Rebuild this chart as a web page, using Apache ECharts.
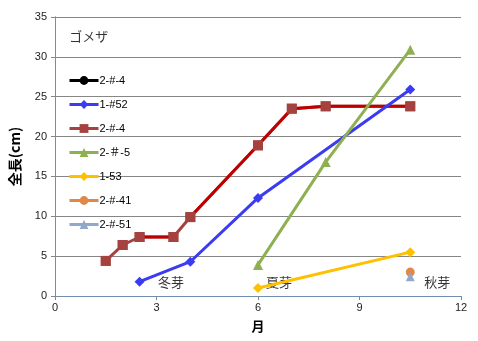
<!DOCTYPE html>
<html><head><meta charset="utf-8">
<script src="https://cdn.jsdelivr.net/npm/echarts@6/dist/echarts.min.js"></script>
<style>html,body{margin:0;padding:0;background:#fff}#c{width:478px;height:341px}</style>
</head><body><div id="c"></div>
<script>
// ---- data ----
const xTicks = [0, 3, 6, 9, 12];
const yTicks = [0, 5, 10, 15, 20, 25, 30, 35];
const names = ['2-#-4', '1-#52', '2-#-4', '2-＃-5', '1-53', '2-#-41', '2-#-51'];
const m_1_52 = [2.5, 4, 6, 10.5];
const v_1_52 = [1.8, 4.3, 12.3, 25.9];
const m_2_4 = [1.5, 2, 2.5, 3.5, 4, 6, 7, 8, 10.5];
const v_2_4 = [4.4, 6.4, 7.4, 7.4, 9.9, 18.9, 23.5, 23.8, 23.8];
// which segments (start index) of 2-#-4 are drawn red (rest brown)
const redSeg = [2, 4, 5, 6, 7];
const m_2_5 = [6, 8, 10.5];
const v_2_5 = [3.9, 16.8, 30.9];
const m_1_53 = [6, 10.5];
const v_1_53 = [1.0, 5.5];
const m_2_41 = [10.5];
const v_2_41 = [3.0];
const m_2_51 = [10.5];
const v_2_51 = [2.4];
const notes = [{t: '冬芽', x: 3.43, y: 1.75}, {t: '夏芽', x: 6.62, y: 1.75}, {t: '秋芽', x: 11.3, y: 1.75}, {t: 'ゴメザ', x: 1.0, y: 32.6}];

const zip = (a, b) => a.map((x, i) => [x, b[i]]);
function segData(sel) {
  const out = [];
  for (let i = 0; i < m_2_4.length - 1; i++) {
    if (!sel(i)) continue;
    const last = out.length ? out[out.length - 1] : null;
    if (!last || last[0] !== m_2_4[i]) {
      if (last) out.push([(last[0] + m_2_4[i]) / 2, '-']);
      out.push([m_2_4[i], v_2_4[i]]);
    }
    out.push([m_2_4[i + 1], v_2_4[i + 1]]);
  }
  return out;
}
const keys = ['k0', 'k1', 'k2', 'k3', 'k4', 'k5', 'k6'];
const nameMap = {}; keys.forEach((k, i) => nameMap[k] = names[i]);

const chart = echarts.init(document.getElementById('c'));
const font = 'Arial, "Liberation Sans", "Noto Sans CJK JP", sans-serif';
const cjk = '"Noto Sans CJK JP", sans-serif';
chart.setOption({
  animation: false,
  textStyle: {fontFamily: font},
  grid: {left: 55, right: 17, top: 17, bottom: 45},
  legend: {
    orient: 'vertical', left: 68, top: 75, padding: 0, itemWidth: 29, itemHeight: 11, itemGap: 13,
    lineStyle: {width: 3},
    textStyle: {fontSize: 11, color: '#000', padding: [0, 0, 0, -4], fontFamily: font},
    formatter: n => nameMap[n],
    data: [
      {name: 'k0', itemStyle: {color: '#000'}, lineStyle: {color: '#000', width: 3}},
      'k1', 'k2', 'k3', 'k4', 'k5', 'k6'
    ]
  },
  xAxis: [{
    type: 'value', min: 0, max: 12, interval: 3,
    name: '月', nameLocation: 'middle', nameGap: 24,
    nameTextStyle: {fontWeight: 'bold', fontSize: 13, color: '#000', fontFamily: cjk},
    axisLine: {show: true, lineStyle: {color: '#868686'}},
    axisTick: {show: true, inside: false, length: 4, lineStyle: {color: '#868686'}},
    axisLabel: {fontSize: 11, color: '#222', margin: 6},
    splitLine: {show: false}
  }, {
    type: 'value', min: 0, max: 12, position: 'top',
    axisLine: {show: true, lineStyle: {color: '#6f8fb0'}},
    axisTick: {show: false}, axisLabel: {show: false}, splitLine: {show: false}
  }],
  yAxis: [{
    type: 'value', min: 0, max: 35, interval: 5,
    name: '全長(cm)', nameLocation: 'middle', nameGap: 33, nameRotate: 90,
    nameTextStyle: {fontWeight: 'bold', fontSize: 14, color: '#000', fontFamily: cjk},
    axisLine: {show: true, lineStyle: {color: '#868686'}},
    axisTick: {show: true, inside: false, length: 4, lineStyle: {color: '#868686'}},
    axisLabel: {fontSize: 11, color: '#222', margin: 8},
    splitLine: {show: true, lineStyle: {color: '#868686', width: 1}}
  }, {
    type: 'value', min: 0, max: 35, position: 'right',
    axisLine: {show: true, lineStyle: {color: '#6f8fb0'}},
    axisTick: {show: false}, axisLabel: {show: false}, splitLine: {show: false}
  }],
  series: [
    {name: 'k2', type: 'line', data: zip(m_2_4, v_2_4), symbol: 'rect', symbolSize: 10,
     itemStyle: {color: '#A5423F'}, lineStyle: {color: '#A5423F', width: 3}},
    {name: 'k0', type: 'line', data: segData(i => redSeg.includes(i)), symbol: 'none', connectNulls: false,
     itemStyle: {color: '#000'}, lineStyle: {color: '#C00000', width: 3}},
    {type: 'scatter', data: zip(m_2_4, v_2_4), symbol: 'rect', symbolSize: 10, silent: true,
     itemStyle: {color: '#A5423F'}},
    {name: 'k1', type: 'line', data: zip(m_1_52, v_1_52), symbol: 'diamond', symbolSize: 10,
     itemStyle: {color: '#3B3BF2'}, lineStyle: {color: '#3B3BF2', width: 3}},
    {name: 'k3', type: 'line', data: zip(m_2_5, v_2_5), symbol: 'triangle', symbolSize: 10,
     itemStyle: {color: '#8FB050'}, lineStyle: {color: '#8FB050', width: 3}},
    {name: 'k4', type: 'line', data: zip(m_1_53, v_1_53), symbol: 'diamond', symbolSize: 10,
     itemStyle: {color: '#FFC000'}, lineStyle: {color: '#FFC000', width: 3}},
    {name: 'k5', type: 'line', data: zip(m_2_41, v_2_41), symbol: 'circle', symbolSize: 9,
     itemStyle: {color: '#E0884A'}, lineStyle: {color: '#E0884A', width: 3}},
    {name: 'k6', type: 'line', data: zip(m_2_51, v_2_51), symbol: 'triangle', symbolSize: 9,
     itemStyle: {color: '#90A8CC'}, lineStyle: {color: '#90A8CC', width: 3}},
    {type: 'scatter', symbolSize: 0, silent: true,
     data: notes.map(n => ({value: [n.x, n.y], label: {formatter: n.t}})),
     label: {show: true, position: 'inside', fontSize: 13, color: '#000', fontFamily: cjk}}
  ]
});
</script></body></html>
